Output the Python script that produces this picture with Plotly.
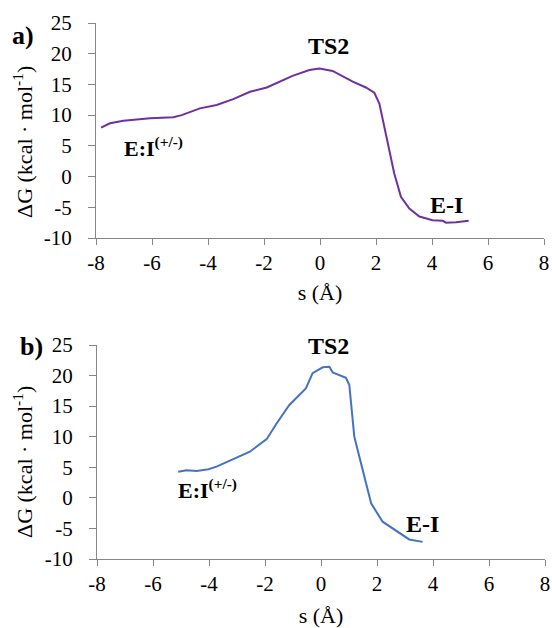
import plotly.graph_objects as go

# Panel a data (purple)
s_a = [-7.82, -7.5, -7.02, -6.07, -5.24, -4.94, -4.29, -3.69, -3.1, -2.5, -1.9, -1.57,
       -0.98, -0.38, -0.02, 0.45, 1.17, 1.64, 1.94, 2.12, 2.3, 2.48, 2.65, 2.89, 3.19,
       3.55, 4.02, 4.38, 4.5, 4.86, 5.31]
g_a = [7.96, 8.67, 9.1, 9.5, 9.65, 10.0, 11.1, 11.65, 12.6, 13.8, 14.5, 15.2,
       16.4, 17.35, 17.6, 17.2, 15.45, 14.5, 13.65, 11.9, 8.1, 4.3, 0.55, -3.3, -5.2,
       -6.5, -7.1, -7.2, -7.5, -7.45, -7.2]

# Panel b data (blue)
s_b = [-5.1, -4.8, -4.44, -4.02, -3.73, -3.13, -2.54, -1.94, -1.61, -1.13, -0.54, -0.3,
       0.06, 0.3, 0.42, 0.89, 1.01, 1.19, 1.49, 1.79, 2.2, 2.8, 3.15, 3.63]
g_b = [4.28, 4.5, 4.4, 4.67, 5.1, 6.3, 7.55, 9.6, 12.0, 15.2, 17.9, 20.4,
       21.35, 21.45, 20.5, 19.65, 18.5, 10.0, 4.55, -0.9, -3.9, -5.8, -6.8, -7.2]

x_ticks = [-8, -6, -4, -2, 0, 2, 4, 6, 8]
y_ticks = [-10, -5, 0, 5, 10, 15, 20, 25]

FONT = "Liberation Serif, Times New Roman, serif"
AXC = "#868686"

fig = go.Figure()
fig.add_trace(go.Scatter(x=s_a, y=g_a, mode="lines", line=dict(color="#7030A0", width=2),
                         xaxis="x", yaxis="y", showlegend=False, hoverinfo="skip"))
fig.add_trace(go.Scatter(x=s_b, y=g_b, mode="lines", line=dict(color="#4472C4", width=2),
                         xaxis="x2", yaxis="y2", showlegend=False, hoverinfo="skip"))

def xax(domain, anchor, standoff):
    return dict(domain=domain, anchor=anchor, range=[-8, 8], tickvals=x_ticks,
                ticktext=[str(v) for v in x_ticks], showline=True, linecolor=AXC, linewidth=1,
                ticks="outside", ticklen=6, tickcolor=AXC, showgrid=False, zeroline=False,
                automargin=False,
                tickfont=dict(family=FONT, size=21, color="#000"),
                title=dict(text="s (Å)", font=dict(family=FONT, size=22, color="#000"), standoff=standoff))

def yax(domain, anchor):
    return dict(domain=domain, anchor=anchor, range=[-10, 25], tickvals=y_ticks,
                ticktext=[str(v) for v in y_ticks], showline=True, linecolor=AXC, linewidth=1,
                ticks="outside", ticklen=7, tickcolor=AXC, showgrid=False, zeroline=False,
                automargin=False,
                tickfont=dict(family=FONT, size=21, color="#000"), ticklabelstandoff=12)

fig.update_layout(
    width=552, height=628, margin=dict(l=0, r=0, t=0, b=0, autoexpand=False),
    paper_bgcolor="white", plot_bgcolor="white",
    font=dict(family=FONT),
    xaxis=xax([96/552, 544/552], "y", 10),
    yaxis=yax([1-238/628, 1-23/628], "x"),
    xaxis2=xax([97/552, 545/552], "y2", 20),
    yaxis2=yax([1-559/628, 1-345/628], "x2"),
)

bold = dict(family=FONT, color="#000")
ann = [
    dict(text="<b>a)</b>", xref="paper", yref="paper", x=23/552, y=1-35/628, font=dict(size=26, **bold)),
    dict(text="<b>b)</b>", xref="paper", yref="paper", x=31/552, y=1-346/628, font=dict(size=26, **bold)),
    dict(text="<b>TS2</b>", xref="x", yref="y", x=0.3, y=21.2, font=dict(size=24, **bold)),
    dict(text="<b>E-I</b>", xref="x", yref="y", x=4.5, y=-4.63, font=dict(size=24, **bold)),
    dict(text="<b>E:I<sup>(+/-)</sup></b>", xref="x", yref="y", x=-5.96, y=4.85, font=dict(size=22, **bold)),
    dict(text="<b>TS2</b>", xref="x2", yref="y2", x=0.27, y=24.9, font=dict(size=24, **bold)),
    dict(text="<b>E-I</b>", xref="x2", yref="y2", x=3.64, y=-4.2, font=dict(size=24, **bold)),
    dict(text="<b>E:I<sup>(+/-)</sup></b>", xref="x2", yref="y2", x=-4.07, y=1.5, font=dict(size=22, **bold)),
    dict(text="ΔG (kcal · mol<sup>-1</sup>)", xref="paper", yref="paper", x=23/552, y=1-142/628,
         textangle=-90, font=dict(family=FONT, size=22, color="#000")),
    dict(text="ΔG (kcal · mol<sup>-1</sup>)", xref="paper", yref="paper", x=23/552, y=1-462/628,
         textangle=-90, font=dict(family=FONT, size=22, color="#000")),
]
for a in ann:
    a.setdefault("showarrow", False)
    a.setdefault("xanchor", "center")
    a.setdefault("yanchor", "middle")
fig.update_layout(annotations=ann)

fig.write_html("out.html")
